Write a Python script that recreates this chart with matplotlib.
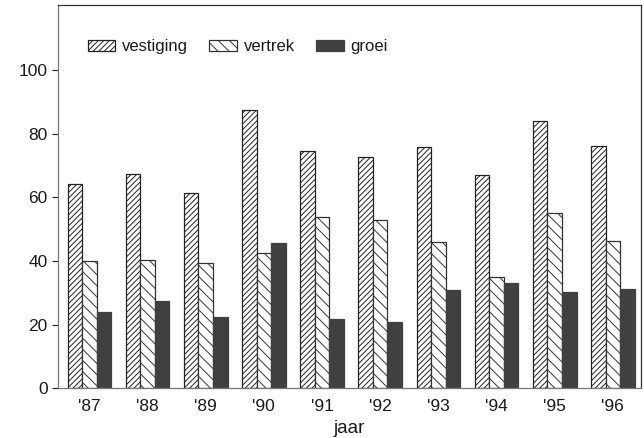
import numpy as np
import matplotlib.pyplot as plt

jaren = ["'87", "'88", "'89", "'90", "'91", "'92", "'93", "'94", "'95", "'96"]
vestiging = [64.2, 67.4, 61.3, 87.6, 74.6, 72.6, 75.8, 66.9, 83.9, 76.1]
vertrek = [40.0, 40.2, 39.3, 42.6, 53.8, 52.8, 45.9, 34.9, 55.2, 46.2]
groei = [24.0, 27.4, 22.5, 45.6, 21.6, 20.7, 31.0, 33.0, 30.2, 31.3]

plt.rcParams['font.family'] = ['Liberation Sans', 'DejaVu Sans']
plt.rcParams['hatch.linewidth'] = 0.7

fig = plt.figure(figsize=(6.44, 4.38), dpi=100)
ax = fig.add_axes([0.09, 0.114, 0.905, 0.875])

x = np.arange(len(jaren))
w = 0.25
ax.bar(x - w, vestiging, w, facecolor='white', edgecolor='#222222', hatch='//////',
       linewidth=0.9, label='vestiging')
ax.bar(x, vertrek, w, facecolor='white', edgecolor='#333333', hatch='\\\\\\',
       linewidth=0.9, label='vertrek')
ax.bar(x + w, groei, w, facecolor='#404040', edgecolor='#404040',
       linewidth=0.9, label='groei')

ax.set_xlim(-0.54, 9.48)
ax.set_ylim(0, 120.6)
ax.set_yticks([0, 20, 40, 60, 80, 100])
ax.set_xticks(x)
ax.set_xticklabels(jaren)
ax.tick_params(axis='y', labelsize=12.5, length=4, width=0.8, colors='#1a1a1a')
ax.tick_params(axis='x', labelsize=12.5, length=0, pad=8, colors='#1a1a1a')
ax.set_xlabel('jaar', fontsize=13.5, labelpad=4, color='#1a1a1a')

for s in ax.spines.values():
    s.set_color('#333333')
    s.set_linewidth(0.9)
ax.spines['left'].set_color('#777777')
ax.spines['bottom'].set_color('#777777')

leg = ax.legend(loc='upper left', bbox_to_anchor=(0.025, 0.95), ncol=3, frameon=False,
                prop={'size': 12}, handlelength=1.65, handleheight=0.65,
                columnspacing=1.3, handletextpad=0.4)
for t in leg.get_texts():
    t.set_color('#1a1a1a')

fig.savefig('out.png', dpi=100)
